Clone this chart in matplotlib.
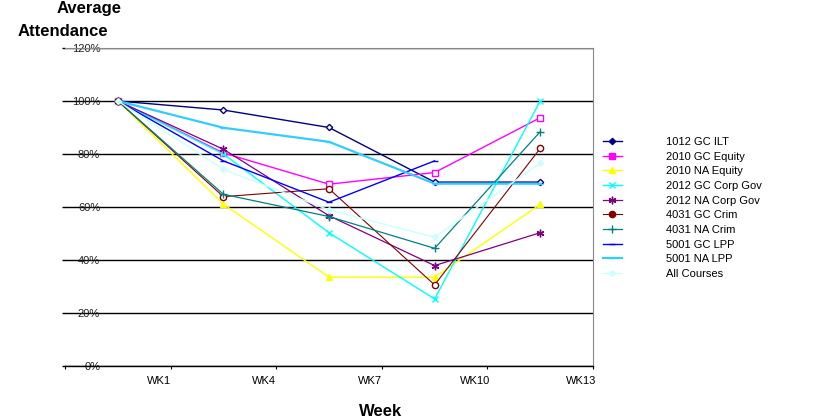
import numpy as np
import matplotlib
matplotlib.use("Agg")
import matplotlib.pyplot as plt
import matplotlib.transforms as mtransforms
from matplotlib.lines import Line2D

plt.rcParams['font.family'] = ['Liberation Sans', 'DejaVu Sans']

weeks = ["WK1", "WK4", "WK7", "WK10", "WK13"]
nan = np.nan

series_names = ["1012 GC ILT", "2010 GC Equity", "2010 NA Equity", "2012 GC Corp Gov",
                "2012 NA Corp Gov", "4031 GC Crim", "4031 NA Crim", "5001 GC LPP",
                "5001 NA LPP", "All Courses"]

gc_ilt_1012 = [100, 96.6, 90.0, 69.4, 69.4]
gc_equity_2010 = [100, 80.4, 68.6, 73.0, 93.7]
na_equity_2010 = [100, 61.1, 33.5, 33.5, 61.0]
gc_corpgov_2012 = [100, 80.0, 50.3, 25.3, 100]
na_corpgov_2012 = [100, 81.8, 56.7, 37.9, 50.3]
gc_crim_4031 = [100, 63.9, 66.9, 30.6, 82.1]
na_crim_4031 = [100, 64.8, 56.4, 44.4, 88.4]
gc_lpp_5001 = [100, 77.4, 61.8, 77.4, nan]
na_lpp_5001 = [100, 89.9, 84.6, 68.8, 68.8]
all_courses = [100, 74.2, 58.9, 48.6, 76.5]

values = [gc_ilt_1012, gc_equity_2010, na_equity_2010, gc_corpgov_2012, na_corpgov_2012,
          gc_crim_4031, na_crim_4031, gc_lpp_5001, na_lpp_5001, all_courses]

colors = ["#000080", "#FF00FF", "#FFFF00", "#00FFFF", "#800080",
          "#800000", "#008080", "#0000FF", "#33CCFF", "#CCFFFF"]
markers = ["D", "s", "^", "x", (6, 2, 0), "o", "+", "_", "_", "D"]
open_marker = [True, True, False, False, False, True, False, False, False, False]
msizes = [3.2, 4.5, 4.5, 4.5, 5.5, 4.5, 5.5, 4.5, 4.5, 3]
lws = [1.0, 1.0, 1.0, 1.0, 0.9, 0.8, 0.9, 1.0, 1.6, 1.0]

W, H = 834, 419
fig = plt.figure(figsize=(W / 100, H / 100), dpi=100)
ax = fig.add_axes([65 / W, (H - 366) / H, (593 - 65) / W, (366 - 48) / H])

x = np.arange(len(weeks)) + 0.5
for name, v, c, m, op, ms, lw in zip(series_names, values, colors, markers, open_marker, msizes, lws):
    ax.plot(x, v, color=c, lw=lw, marker=m, ms=ms,
            markerfacecolor=('white' if op else c), markeredgecolor=c,
            markeredgewidth=1.0)

ax.set_xlim(0, 5)
ax.set_ylim(0, 120)
ax.set_yticks([0, 20, 40, 60, 80, 100, 120])
ax.set_yticklabels([f"{t}%" for t in [0, 20, 40, 60, 80, 100, 120]], fontsize=8, color="#222222")
ax.yaxis.grid(True, color="black", lw=1.0)
ax.set_axisbelow(True)
ax.tick_params(axis='y', length=2.2, width=1.0, color='black', pad=-27.5)
for lab in ax.get_yticklabels():
    lab.set_horizontalalignment('right')

ax.set_xticks([0, 1, 2, 3, 4, 5])
ax.set_xticklabels([""] + weeks, fontsize=8)
ax.tick_params(axis='x', length=2.5, width=0.8, color='black', pad=5)
off = mtransforms.ScaledTranslation(-12 / 100, 0, fig.dpi_scale_trans)
for lab in ax.get_xticklabels():
    lab.set_transform(lab.get_transform() + off)

ax.spines['left'].set_visible(False)
ax.spines['top'].set_color('#888888')
ax.spines['top'].set_linewidth(0.8)
ax.spines['right'].set_color('#888888')
ax.spines['right'].set_linewidth(0.8)
ax.spines['bottom'].set_color('black')
ax.spines['bottom'].set_linewidth(1.0)

fig.text(89.5 / W, 1 - 8 / H, "Average", ha='center', va='center', fontsize=12, fontweight='bold')
fig.text(63 / W, 1 - 31 / H, "Attendance", ha='center', va='center', fontsize=12, fontweight='bold')
fig.text(381 / W, 1 - 411 / H, "Week", ha='center', va='center', fontsize=12, fontweight='bold')

handles = []
for name, c, m, ms, lw in zip(series_names, colors, markers, msizes, lws):
    handles.append(Line2D([], [], color=c, lw=lw, marker=m, ms=ms,
                          markerfacecolor=c, markeredgecolor=c))
leg = fig.legend(handles, series_names, loc='upper left',
                 bbox_to_anchor=(603 / W, 1 - 137 / H), frameon=False,
                 fontsize=8, handlelength=1.7, handletextpad=4.0,
                 labelspacing=0.42, borderaxespad=0, borderpad=0)

fig.savefig("out.png", dpi=100)
